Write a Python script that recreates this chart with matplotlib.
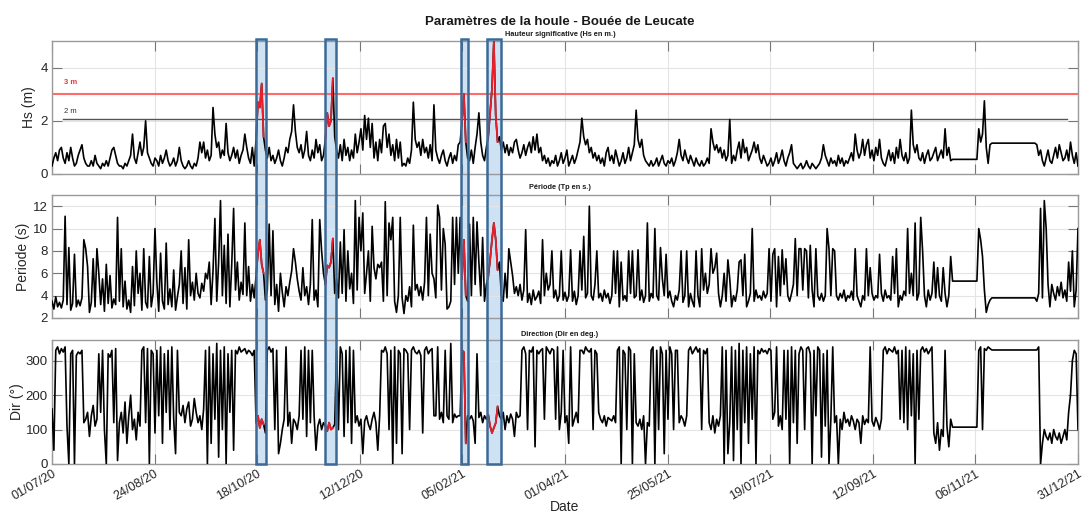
import numpy as np
import matplotlib
matplotlib.use("Agg")
import matplotlib.pyplot as plt
from matplotlib.patches import Rectangle

# ---------------- data (daily values, day 0 = 01/07/20) ----------------
hs = [
    0.3, 0.6, 0.8, 0.5, 0.9, 1.0, 0.6, 0.4, 0.8, 0.5, 1.0, 0.6, 0.3, 0.4, 0.7, 0.9, 1.1, 0.6,
    0.4, 0.3, 0.3, 0.5, 0.3, 0.7, 0.4, 0.3, 0.2, 0.4, 0.3, 0.5, 0.3, 0.6, 0.9, 1.0, 0.7, 0.4, 0.3, 0.3, 0.2, 0.4, 0.3, 0.5, 0.7,
    1.5, 0.6, 0.4, 0.8, 1.2, 0.7, 1.0, 2.0, 0.8, 0.6,
    0.4, 0.3, 0.6, 0.5, 0.3, 0.7, 0.4, 0.6, 0.9, 0.5, 0.3, 0.4, 0.6, 0.3, 0.5,
    1.0, 0.5, 0.3, 0.2, 0.3, 0.5, 0.3, 0.2, 0.4, 0.3, 0.6,
    1.2, 0.8, 1.2, 0.6, 0.9, 0.5, 0.7,
    2.5, 1.5, 1.0, 1.2, 0.6, 0.9, 0.7, 1.9, 0.8, 0.5, 0.7, 1.0, 0.6, 0.9, 0.4, 0.7, 0.9, 1.5, 1.0, 0.6, 0.4, 1.0, 0.3,
    1.3, 2.7, 2.5, 3.4, 1.4, 0.9,
    0.6, 1.0, 0.5, 0.7, 0.4, 0.6, 0.9, 0.5, 0.3, 0.6, 1.0, 0.8, 1.3, 1.6,
    2.6, 1.6, 1.0, 0.8, 1.1, 0.6, 0.9, 1.6, 0.7, 0.5, 0.9, 0.6, 1.3, 0.8, 1.1, 0.5, 0.7,
    1.3, 2.3, 1.8, 2.0, 3.6, 1.4,
    0.9, 0.6, 1.1, 0.5, 1.3, 0.7, 1.0, 0.5, 0.9, 0.6,
    1.5, 0.8, 1.2, 1.7, 0.9, 2.2, 1.3, 2.1, 1.0, 1.9,
    0.6, 1.2, 0.5, 1.3, 0.8, 1.8, 1.9, 1.0, 1.5, 0.7, 1.1, 0.5, 1.3, 0.6, 1.2,
    0.3, 0.4, 0.3, 0.6, 0.4, 0.9,
    2.7, 1.3, 1.0, 1.2, 0.7, 1.3, 0.8, 1.0, 0.6, 1.1, 0.5,
    2.6, 0.9, 0.6, 0.4, 0.7, 0.9, 0.5, 0.3, 0.6, 0.8, 0.4, 0.7, 0.5, 1.1,
    1.2, 2.0, 3.0, 1.2, 0.6,
    0.5, 0.9, 0.4, 1.0, 1.5, 2.3, 1.2, 0.7, 0.5, 1.0,
    1.4, 2.3, 3.2, 5.0, 2.2, 1.2, 1.4,
    0.9, 1.2, 0.8, 1.1, 0.7, 1.0, 0.8, 1.2, 1.3, 0.9, 0.6, 0.8, 1.1, 0.7, 1.0, 1.2, 0.8, 1.4,
    0.9, 1.5, 0.8, 1.0, 0.5, 0.7, 0.4, 0.6, 0.3, 0.5,
    0.4, 0.7, 0.3, 0.5, 0.8, 0.4, 0.6, 0.9, 0.3, 0.5, 0.7, 0.4, 0.6, 0.9, 1.2,
    2.1, 1.4, 1.1, 1.3, 0.8, 1.0, 0.6, 0.8, 0.5, 0.7,
    0.4, 0.6, 0.3, 0.8, 1.0, 0.5, 0.7, 0.4, 0.9, 0.6, 0.3, 0.5, 0.8, 0.4, 0.6, 1.0, 0.5, 0.8, 1.1,
    2.4, 1.3, 1.0, 1.3, 0.7, 0.5, 0.4,
    0.3, 0.5, 0.3, 0.4, 0.6, 0.3, 0.5, 0.7, 0.4, 0.3, 0.5, 0.4, 0.6, 0.3, 0.5, 0.8, 1.3, 0.7,
    0.5, 0.9, 0.6, 0.4, 0.7, 0.5, 0.3, 0.6, 0.4, 0.3, 0.5, 0.3, 0.4, 0.6, 0.4,
    1.7, 1.2, 0.9, 1.1, 0.8, 1.0, 0.6, 0.9, 0.5, 0.7,
    2.05, 0.4, 0.7, 0.5, 0.9, 1.2, 0.6, 1.3, 0.8, 1.0, 0.5, 0.7, 0.9, 1.2, 0.8, 1.1, 0.6, 0.4, 0.7, 0.5, 0.3,
    0.4, 0.6, 0.3, 0.5, 0.8, 0.4, 0.6, 0.9, 0.5, 0.3, 0.6, 0.8, 1.1,
    0.4, 0.3, 0.2, 0.3, 0.4, 0.2, 0.3, 0.5, 0.3, 0.2, 0.4, 0.3, 0.2, 0.3, 0.4, 0.6,
    1.1, 0.7, 0.5, 0.3, 0.6, 0.4, 0.5, 0.3, 0.7, 0.4, 0.6, 0.3, 0.5, 0.4, 0.6, 0.8, 0.5,
    1.5, 0.9, 0.6, 0.8, 1.3, 0.7, 1.1, 1.3, 0.6, 0.9, 0.5, 1.0, 0.7, 1.3, 0.6, 0.4,
    0.3, 0.6, 0.9, 0.5, 0.8, 0.4, 1.0, 0.6, 1.3, 0.7, 0.5, 0.8, 0.4, 0.6,
    2.4, 1.1, 0.8, 1.1, 0.6, 0.5, 0.8, 0.4, 0.7, 0.9, 0.5, 0.6, 0.8, 1.0, 0.5, 0.7, 0.9, 0.6, 1.7, 0.7, 1.0, 0.5,
    0.55, 0.55, 0.55, 0.55, 0.55, 0.55, 0.55, 0.55, 0.55, 0.55, 0.55, 0.55, 0.55, 0.55,
    1.7, 1.2, 1.5, 2.75, 1.0, 0.4, 1.1,
    1.16, 1.16, 1.16, 1.16, 1.16, 1.16, 1.16, 1.16, 1.16, 1.16, 1.16, 1.16,
    1.16, 1.16, 1.16, 1.16, 1.16, 1.16, 1.16, 1.16, 1.16, 1.16, 1.16, 1.16,
    1.1, 0.7, 0.9, 0.5, 0.3, 0.6, 0.9, 0.5, 0.4, 0.7, 1.0, 0.6, 1.1, 0.8, 0.5, 0.6, 0.9, 0.5, 1.2, 0.7, 0.4, 0.8, 0.3,
]

tp = [
    3.5, 2.8, 3.9, 3.0, 3.4, 2.9, 3.6,
    11.1, 3.2, 8.3, 2.7, 3.3, 7.7, 3.0, 3.6, 3.1, 3.8,
    9.0, 8.2, 6.6, 2.5, 3.4, 7.3, 3.0, 8.2, 6.0, 3.2, 5.5, 2.6, 6.8, 3.3, 5.8, 2.9, 3.7, 3.2,
    11.0, 3.5, 8.2, 3.0, 5.3, 2.8, 3.6, 2.5, 6.6, 3.1, 8.0, 4.2, 6.0, 2.7, 8.2, 3.4, 2.9,
    7.5, 3.0, 4.2, 10.0, 5.2, 2.6, 7.8, 3.5, 2.8, 8.7, 3.2, 4.6, 3.0, 6.3, 2.7, 3.9, 5.0,
    8.0, 3.3, 6.5, 2.8, 9.0, 4.0, 5.2, 3.6, 6.0, 4.2, 3.8, 5.1, 4.4, 6.0,
    5.5, 7.0, 3.2, 6.2, 10.9, 3.5, 7.0, 12.5, 4.0, 8.5, 3.3, 9.5, 3.0, 6.8, 11.8, 4.5, 7.0, 3.6, 5.2, 4.1, 10.5, 4.0, 6.6, 3.5, 5.0, 3.8,
    5.8, 7.8, 9.0, 6.8, 6.0, 3.6, 4.5,
    10.4, 4.0, 9.8, 3.2, 5.0, 2.6, 6.0, 4.3, 3.0, 4.8, 4.0, 5.2, 6.2,
    8.2, 7.0, 5.5, 4.4, 3.6, 6.5, 4.0, 4.8, 3.2, 5.0, 10.8, 3.6, 4.5, 3.0, 10.8, 8.0, 6.0,
    5.0, 6.7, 6.5, 7.0, 9.1, 4.2,
    5.5, 3.8, 8.8, 4.2, 9.9, 3.5, 8.0, 4.6, 6.0, 3.3,
    12.5, 4.5, 11.0, 8.0, 11.4, 4.2, 6.0, 8.0, 3.5, 10.2,
    6.5, 5.5, 6.8, 6.5, 7.0, 3.5,
    12.4, 4.0, 10.5, 9.0, 11.0, 3.5, 2.5, 4.0, 11.0, 3.8, 2.4, 4.0, 3.5, 4.8, 3.0,
    10.3, 4.5, 5.0, 4.0, 4.8, 3.6, 5.2, 11.0, 4.0, 9.5, 6.0, 5.5, 3.8,
    12.1, 11.0, 4.5, 10.0, 8.6, 2.8, 3.0, 3.5, 11.0, 5.0, 11.0, 6.0,
    11.0, 5.5, 9.0, 4.0, 3.5,
    10.4, 4.0, 11.0, 5.0, 10.6, 7.0, 4.0, 9.2, 3.5, 5.0,
    5.7, 7.2, 9.0, 10.5, 9.0, 6.3, 7.0,
    4.0, 3.5, 6.0, 3.8, 8.2, 7.0, 5.8, 4.2, 4.8, 4.0, 5.0, 3.6, 4.5, 9.9, 3.4, 4.2, 3.2, 4.5,
    3.6, 3.9, 4.4, 3.3, 9.0, 4.0, 6.0, 4.5, 5.0, 8.0, 3.8, 4.5, 3.5, 4.0, 8.0, 3.6, 4.3, 3.5,
    4.0, 8.1, 3.5, 4.4, 3.2, 4.0, 8.0, 4.5, 9.3, 3.8, 4.2, 12.0, 4.0, 3.6, 5.0, 8.0, 3.8, 4.2,
    3.5, 4.5, 3.8, 4.2, 3.3, 4.0, 8.0, 4.2, 8.0, 3.0, 7.0, 3.6, 4.0, 3.5, 8.0, 4.2, 8.0, 3.8, 4.0,
    8.1, 3.6, 4.5, 3.4, 4.0, 10.5, 3.5, 4.2, 3.8, 10.0, 4.0, 3.6, 8.3, 5.5, 4.0, 7.7, 3.8, 4.4,
    3.5, 3.0, 4.0, 3.6, 4.5, 8.0, 3.4, 4.0, 8.0, 3.0, 4.2, 3.5, 3.0, 8.0, 4.0,
    3.0, 8.2, 4.5, 6.0, 4.2, 5.0, 8.2, 6.0, 6.5, 7.8, 4.2, 3.0, 4.0, 6.0, 3.5, 7.2,
    5.5, 3.0, 4.0, 3.5, 4.5, 7.0, 7.2, 4.0, 7.7, 3.0, 3.5, 4.2,
    10.0, 3.5, 4.5, 3.8, 4.0, 3.6, 4.4, 3.8, 4.2, 8.2, 3.5, 7.7, 8.2, 3.0, 7.5, 4.0, 8.1,
    5.0, 7.3, 4.0, 3.5, 4.2, 5.0, 9.1, 4.0, 8.2, 8.2, 4.5, 8.2, 8.0, 3.8, 8.5, 4.5, 3.0, 8.2, 4.0, 3.6,
    4.2, 3.5, 4.0, 10.0, 8.2, 4.0, 8.2, 8.0, 4.0, 3.6, 4.2, 3.8, 4.5, 3.5, 4.0, 3.8, 4.4, 3.6, 8.2,
    4.0, 3.5, 3.0, 4.0, 3.6, 8.2, 4.0, 6.5, 4.2, 3.6, 4.0, 3.8, 7.7, 4.2,
    3.5, 4.5, 3.8, 4.0, 3.6, 7.5, 4.2, 8.2, 3.0, 4.0, 3.6, 4.4, 4.0,
    10.0, 4.2, 6.0, 4.0, 10.5, 3.6, 4.2, 11.0, 8.0, 4.0, 3.0, 4.5, 3.6, 4.2, 7.0, 3.8, 6.5, 4.0, 3.5, 6.5, 4.2, 3.0, 4.0, 7.5,
    5.3, 5.3, 5.3, 5.3, 5.3, 5.3, 5.3, 5.3, 5.3, 5.3, 5.3, 5.3, 5.3, 5.3,
    10.0, 9.0, 7.5, 4.5, 2.5, 3.2, 3.6,
    3.8, 3.8, 3.8, 3.8, 3.8, 3.8, 3.8, 3.8, 3.8, 3.8, 3.8, 3.8,
    3.8, 3.8, 3.8, 3.8, 3.8, 3.8, 3.8, 3.8, 3.8, 3.8, 3.8, 3.8,
    3.5, 4.2, 11.8, 3.8, 12.5, 10.0, 5.0, 3.0, 5.0, 4.2, 3.6, 4.8, 4.0, 5.2, 3.8, 4.5, 3.5, 7.0, 4.4, 8.0, 3.0, 4.5, 10.0,
]

dirs = [
    160, 40, 330, 340, 320, 335, 325, 340, 110,
    0, 320, 330, 0, 315, 325, 320, 330, 120,
    130, 150, 80, 140, 170, 110, 130,
    320, 150, 330, 100, 0, 320, 310, 330, 120, 335, 10,
    120, 150, 90, 180, 60, 140, 200, 100, 130, 70, 150, 110,
    330, 340, 120, 335, 0, 330, 320,
    90, 330, 140, 340, 60, 320, 150, 330, 100, 340, 130, 30, 330, 150,
    140, 170, 120, 160, 180, 110, 130, 190, 150, 120, 140, 100, 160,
    330, 0, 340, 60, 320, 130, 350, 20, 330, 100, 340, 0, 320, 150, 330, 40,
    330, 320, 340, 325, 330, 335, 320, 330, 325, 315, 330,
    120, 140, 105, 130, 115, 90,
    330, 340, 325, 335, 100, 330, 30, 60, 100,
    130, 340, 110, 150, 60, 130, 120, 100, 140, 330,
    130, 340, 80, 330, 120, 330, 140, 40, 110, 130, 100, 120,
    110, 95, 120, 100, 105, 115,
    330, 100, 340, 320, 80, 330, 120, 340, 60, 330,
    120, 140, 110, 130, 30, 125, 140, 115, 100, 130, 150, 120, 40, 140,
    330, 325, 340, 320, 100, 330, 0, 340, 60, 330, 320, 30, 335, 330,
    320, 100, 330, 340, 325, 320, 330, 315, 90, 330, 340, 320, 330, 335, 140,
    140, 340, 130, 150, 120, 330, 140, 130, 350, 120, 145, 135, 140,
    140, 330, 325, 60, 140,
    130, 140, 125, 60, 320, 135, 150, 120, 140, 130,
    143, 110, 90, 105, 119, 167, 140,
    130, 150, 100, 140, 120, 145, 130, 80, 150, 135, 140,
    330, 340, 320, 100, 330, 325, 340, 50, 330, 320, 330, 335, 130, 340, 330, 320, 335, 330,
    130, 340, 100, 150, 330, 120, 140, 60, 340, 110, 130, 150, 120, 330,
    330, 320, 340, 330, 325, 335, 100, 330, 320, 150, 130, 120, 140, 110, 135, 130, 125,
    140, 120, 330, 340, 0, 330, 320, 100, 340, 330, 0, 320,
    120, 110, 130, 100, 140, 0, 120, 110,
    330, 340, 0, 330, 100, 340, 320, 30, 330, 130, 340, 320, 100, 330, 330,
    120, 140, 130, 110, 140,
    330, 340, 320, 330, 340, 325, 335, 100, 330, 320, 335,
    120, 100, 140, 90, 130, 110, 140,
    340, 0, 330, 30, 120, 340, 10, 330, 100, 350, 0, 330, 120, 340, 60, 320, 130, 340, 0,
    330, 320, 335, 325, 330, 320, 335, 330,
    130, 150, 340, 110, 140, 100, 330, 130,
    330, 0, 340, 120, 330, 60, 320, 340, 330, 100, 335, 340, 320, 0, 330, 140, 340, 330, 20, 320, 110, 330, 0, 130, 340,
    120, 140, 0, 130, 100, 150,
    120, 130, 110, 140, 125, 100, 130, 120, 60, 140, 115, 130, 120, 340, 125, 110, 135, 120, 100, 130,
    330, 340, 320, 335, 330, 325, 340, 320, 330,
    130, 330, 120, 340, 100, 330, 140, 320, 0, 330, 130,
    330, 340, 325, 335, 320, 330, 340,
    90, 60, 120, 40, 100, 80, 330, 110, 50, 130,
    107, 107, 107, 107, 107, 107, 107, 107, 107, 107, 107, 107, 107,
    107, 330, 340, 100, 335, 330, 340, 335, 331,
    331, 331, 331, 331, 331, 331, 331, 331, 331, 331, 331, 331,
    331, 331, 331, 331, 331, 331, 331, 331, 331, 331, 331, 331,
    340, 0, 60, 100, 80, 70, 90, 60, 100, 80, 70, 90, 60, 80, 100, 70, 150, 200, 300, 330, 320, 100,
]

# storm events (red segments), day indices
ev_start = [109, 146, 219, 233]
ev_end = [113, 150, 221, 238]
# highlighted storm windows (days)
box_start = [109.0, 145.8, 218.5, 232.4]
box_end = [114.3, 151.7, 222.2, 239.8]

tick_labels = ["01/07/20", "24/08/20", "18/10/20", "12/12/20", "05/02/21", "01/04/21",
               "25/05/21", "19/07/21", "12/09/21", "06/11/21", "31/12/21"]
n_days = 548

# ---------------- figure ----------------
plt.rcParams['font.family'] = ['Liberation Sans', 'DejaVu Sans']
fig = plt.figure(figsize=(10.83, 5.13), dpi=100)

W = 1083.0
H = 513.0
def rect(l, t, r, b):
    return [l / W, 1 - b / H, (r - l) / W, (b - t) / H]

ax1 = fig.add_axes(rect(52, 41, 1078, 174))
ax2 = fig.add_axes(rect(52, 195, 1078, 318))
ax3 = fig.add_axes(rect(52, 340, 1078, 464))

spine_col = '#9a9a9a'
txt_col = '#262626'
red_ev = '#e8202c'

series = [(ax1, hs, (0, 5), [0, 2, 4], 'Hs (m)', -0.0156),
          (ax2, tp, (2, 13), [2, 4, 6, 8, 10, 12], 'Periode (s)', -0.0214),
          (ax3, dirs, (0, 360), [0, 100, 200, 300], 'Dir (°)', -0.027)]

xt = np.linspace(0, n_days, len(tick_labels))
for ax, vals, yl, yt, lab, lx in series:
    ax.set_facecolor('none')
    v = np.asarray(vals, dtype=float)
    d = np.arange(len(v))
    ax.plot(d, v, color='black', lw=1.2, zorder=3)
    for s, e in zip(ev_start, ev_end):
        ax.plot(d[s:e + 1], v[s:e + 1], color=red_ev, lw=1.3, zorder=4)
    ax.set_xlim(0, n_days)
    ax.set_ylim(*yl)
    ax.set_yticks(yt)
    ax.set_xticks(xt)
    ax.grid(True, color='#e4e4e4', lw=0.8, zorder=0)
    ax.tick_params(direction='in', length=7, width=0.8, color='#777777',
                   labelsize=9.5, labelcolor=txt_col, top=True, right=True, pad=3)
    for sp in ax.spines.values():
        sp.set_color(spine_col)
        sp.set_linewidth(1.0)
    ax.set_ylabel(lab, fontsize=10, color=txt_col)
    ax.yaxis.set_label_coords(lx, 0.5)
    if ax is not ax3:
        ax.set_xticklabels([])

ax3.set_xticklabels(tick_labels, rotation=30, ha='right', rotation_mode='anchor', fontsize=9)
fig.text(565 / W, 1 - 507 / H, 'Date', ha='center', va='center', fontsize=10, color=txt_col)

# threshold lines in Hs panel
ax1.axhline(3.0, color='#ff6b6b', lw=1.5, zorder=2)
ax1.axhline(2.07, xmin=0.011, xmax=0.989, color='#555555', lw=1.0, zorder=2)
ax1.text(6.5, 3.4, '3 m', color='#e8353a', fontsize=5.5, fontweight='bold')
ax1.text(6.5, 2.3, '2 m', color='#333333', fontsize=5.5)

# titles
fig.text(0.5165, 1 - 22 / H, 'Paramètres de la houle - Bouée de Leucate', ha='center', va='center',
         fontsize=9.5, fontweight='bold', color='#1a1a1a')
fig.text(0.517, 1 - 34.5 / H, 'Hauteur significative (Hs en m.)', ha='center', va='center',
         fontsize=5.3, fontweight='bold', color='#1a1a1a')
fig.text(0.517, 1 - 187.5 / H, 'Période (Tp en s.)', ha='center', va='center',
         fontsize=5.3, fontweight='bold', color='#1a1a1a')
fig.text(0.517, 1 - 334 / H, 'Direction (Dir en deg.)', ha='center', va='center',
         fontsize=5.3, fontweight='bold', color='#1a1a1a')

# highlight boxes spanning the three panels (fill below the curves, outline on top)
inv = fig.transFigure.inverted()
y_top = 1 - 39 / H
y_bot = 1 - 464 / H
for s, e in zip(box_start, box_end):
    x0 = inv.transform(ax3.transData.transform((s, 0)))[0]
    x1 = inv.transform(ax3.transData.transform((e, 0)))[0]
    fig.patches.append(Rectangle((x0, y_bot), x1 - x0, y_top - y_bot, transform=fig.transFigure,
                                 facecolor='#cfe2f3', edgecolor='none', zorder=-1))
    fig.patches.append(Rectangle((x0, y_bot), x1 - x0, y_top - y_bot, transform=fig.transFigure,
                                 facecolor='none', edgecolor='#3b6a98', lw=1.8, zorder=10))

fig.savefig('out.png', dpi=100)
